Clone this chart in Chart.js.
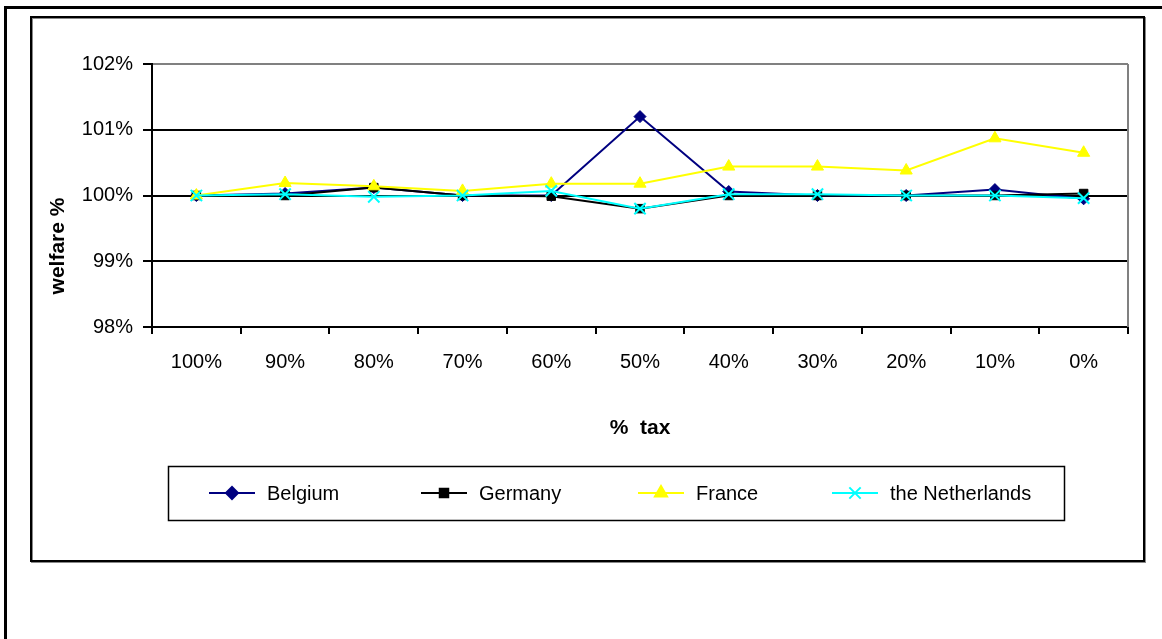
<!DOCTYPE html>
<html>
<head>
<meta charset="utf-8">
<script src="https://cdn.jsdelivr.net/npm/chart.js@4.4.0/dist/chart.umd.min.js"></script>
<style>
  body { margin: 0; background: #fff; overflow: hidden; }
  canvas { display: block; }
</style>
</head>
<body>
<canvas id="welfareChart" width="1162" height="639"></canvas>
<script>
// ==================== DATA ====================
const taxLabels = ["100%", "90%", "80%", "70%", "60%", "50%", "40%", "30%", "20%", "10%", "0%"];
const belgium = [100.00, 100.03, 100.12, 100.00, 100.00, 101.20, 100.06, 100.00, 100.00, 100.09, 99.95];
const germany = [100.00, 100.00, 100.12, 100.00, 99.99, 99.80, 100.00, 100.00, 100.00, 100.00, 100.03];
const france = [100.00, 100.19, 100.14, 100.07, 100.18, 100.18, 100.44, 100.44, 100.38, 100.87, 100.65];
const netherlands = [100.00, 100.02, 99.98, 100.00, 100.07, 99.80, 100.02, 100.02, 100.00, 100.00, 99.96];
const yTicks = [98, 99, 100, 101, 102];

const FONT = "'Liberation Sans', Arial, sans-serif";

// ==================== FRAMES, TITLES, LEGEND ====================
const legendItems = [
    { label: "Belgium", color: "#000080", style: "rectRot", radius: 6, lineX: 209 },
    { label: "Germany", color: "#000000", style: "rect", radius: 6, lineX: 421 },
    { label: "France", color: "#FFFF00", style: "triangle", radius: 7, lineX: 638 },
    { label: "the Netherlands", color: "#00FFFF", style: "crossRot", radius: 8, lineX: 832 }
];

const decorations = {
    id: 'decorations',
    beforeDraw(chart) {
        let ctx = chart.ctx;
        ctx.save();
        ctx.fillStyle = "#fff";
        ctx.fillRect(0, 0, chart.width, chart.height);

        // outer page frame
        ctx.strokeStyle = "#000";
        ctx.lineWidth = 3;
        ctx.beginPath();
        ctx.moveTo(5.5, chart.height);
        ctx.lineTo(5.5, 7.5);
        ctx.lineTo(chart.width, 7.5);
        ctx.stroke();

        // chart frame with shadow
        ctx.strokeStyle = "#888";
        ctx.lineWidth = 2;
        ctx.strokeRect(32, 18, 1113, 544);
        ctx.strokeStyle = "#000";
        ctx.strokeRect(31, 17, 1113, 544);

        // legend box
        ctx.lineWidth = 1.5;
        ctx.strokeRect(168.5, 466.5, 896, 54);

        ctx.font = "20px " + FONT;
        ctx.textBaseline = "middle";
        ctx.textAlign = "left";
        legendItems.forEach(item => {
            let y = 493;
            ctx.strokeStyle = item.color;
            ctx.fillStyle = item.color;
            ctx.lineWidth = 2;
            ctx.beginPath();
            ctx.moveTo(item.lineX, y);
            ctx.lineTo(item.lineX + 46, y);
            ctx.stroke();
            Chart.helpers.drawPoint(ctx, {
                pointStyle: item.style,
                radius: item.radius,
                rotation: 0,
                borderWidth: item.style === "crossRot" ? 2 : 1
            }, item.lineX + 23, y);
            ctx.fillStyle = "#000";
            ctx.fillText(item.label, item.lineX + 58, y + 1);
        });
        ctx.restore();
    },
    afterDraw(chart) {
        let ctx = chart.ctx;
        let area = chart.chartArea;
        ctx.save();
        // plot area right border
        ctx.strokeStyle = "#808080";
        ctx.lineWidth = 2;
        ctx.beginPath();
        ctx.moveTo(area.right, area.top);
        ctx.lineTo(area.right, area.bottom);
        ctx.stroke();

        // axis titles
        ctx.fillStyle = "#000";
        ctx.font = "bold 21px " + FONT;
        ctx.textAlign = "center";
        ctx.textBaseline = "middle";
        ctx.fillText("%  tax", (area.left + area.right) / 2, 428);
        ctx.translate(58, 246);
        ctx.rotate(-Math.PI / 2);
        ctx.fillText("welfare %", 0, 0);
        ctx.restore();
    }
};

// ==================== CHART ====================
function makeSeries(label, data, color, style, radius, order) {
    return {
        label: label,
        data: data,
        borderColor: color,
        backgroundColor: color,
        pointBackgroundColor: color,
        pointBorderColor: color,
        borderWidth: 2,
        pointStyle: style,
        pointRadius: radius,
        pointBorderWidth: style === "crossRot" ? 2 : 1,
        tension: 0,
        order: order
    };
}

let ctx = document.getElementById('welfareChart').getContext('2d');
new Chart(ctx, {
    type: 'line',
    data: {
        labels: taxLabels,
        datasets: [
            makeSeries("Belgium", belgium, "#000080", "rectRot", 6, 3),
            makeSeries("Germany", germany, "#000000", "rect", 6, 2),
            makeSeries("France", france, "#FFFF00", "triangle", 7, 1),
            makeSeries("the Netherlands", netherlands, "#00FFFF", "crossRot", 8, 0)
        ]
    },
    options: {
        responsive: false,
        animation: false,
        devicePixelRatio: 1,
        layout: { padding: { top: 64, right: 34, left: 0, bottom: 0 } },
        plugins: {
            legend: { display: false },
            tooltip: { enabled: false }
        },
        scales: {
            x: {
                offset: true,
                grid: { offset: true, drawOnChartArea: false, drawTicks: true, tickLength: 7, color: "#000", lineWidth: 2 },
                border: { color: "#000", width: 2 },
                ticks: { color: "#000", font: { family: FONT, size: 20 }, padding: 16, maxRotation: 0, autoSkip: false },
                afterFit(scale) { scale.height = 312; }
            },
            y: {
                min: yTicks[0],
                max: yTicks[yTicks.length - 1],
                afterBuildTicks(scale) { scale.ticks = yTicks.map(v => ({ value: v })); },
                ticks: { color: "#000", font: { family: FONT, size: 20 }, padding: 10, callback: v => v + "%" },
                grid: {
                    color: c => (c.tick && c.tick.value === 102) ? "#808080" : "#000",
                    tickColor: "#000",
                    lineWidth: 2,
                    tickLength: 9
                },
                border: { color: "#000", width: 2 },
                afterFit(scale) { scale.width = 152; }
            }
        }
    },
    plugins: [decorations]
});
</script>
</body>
</html>
